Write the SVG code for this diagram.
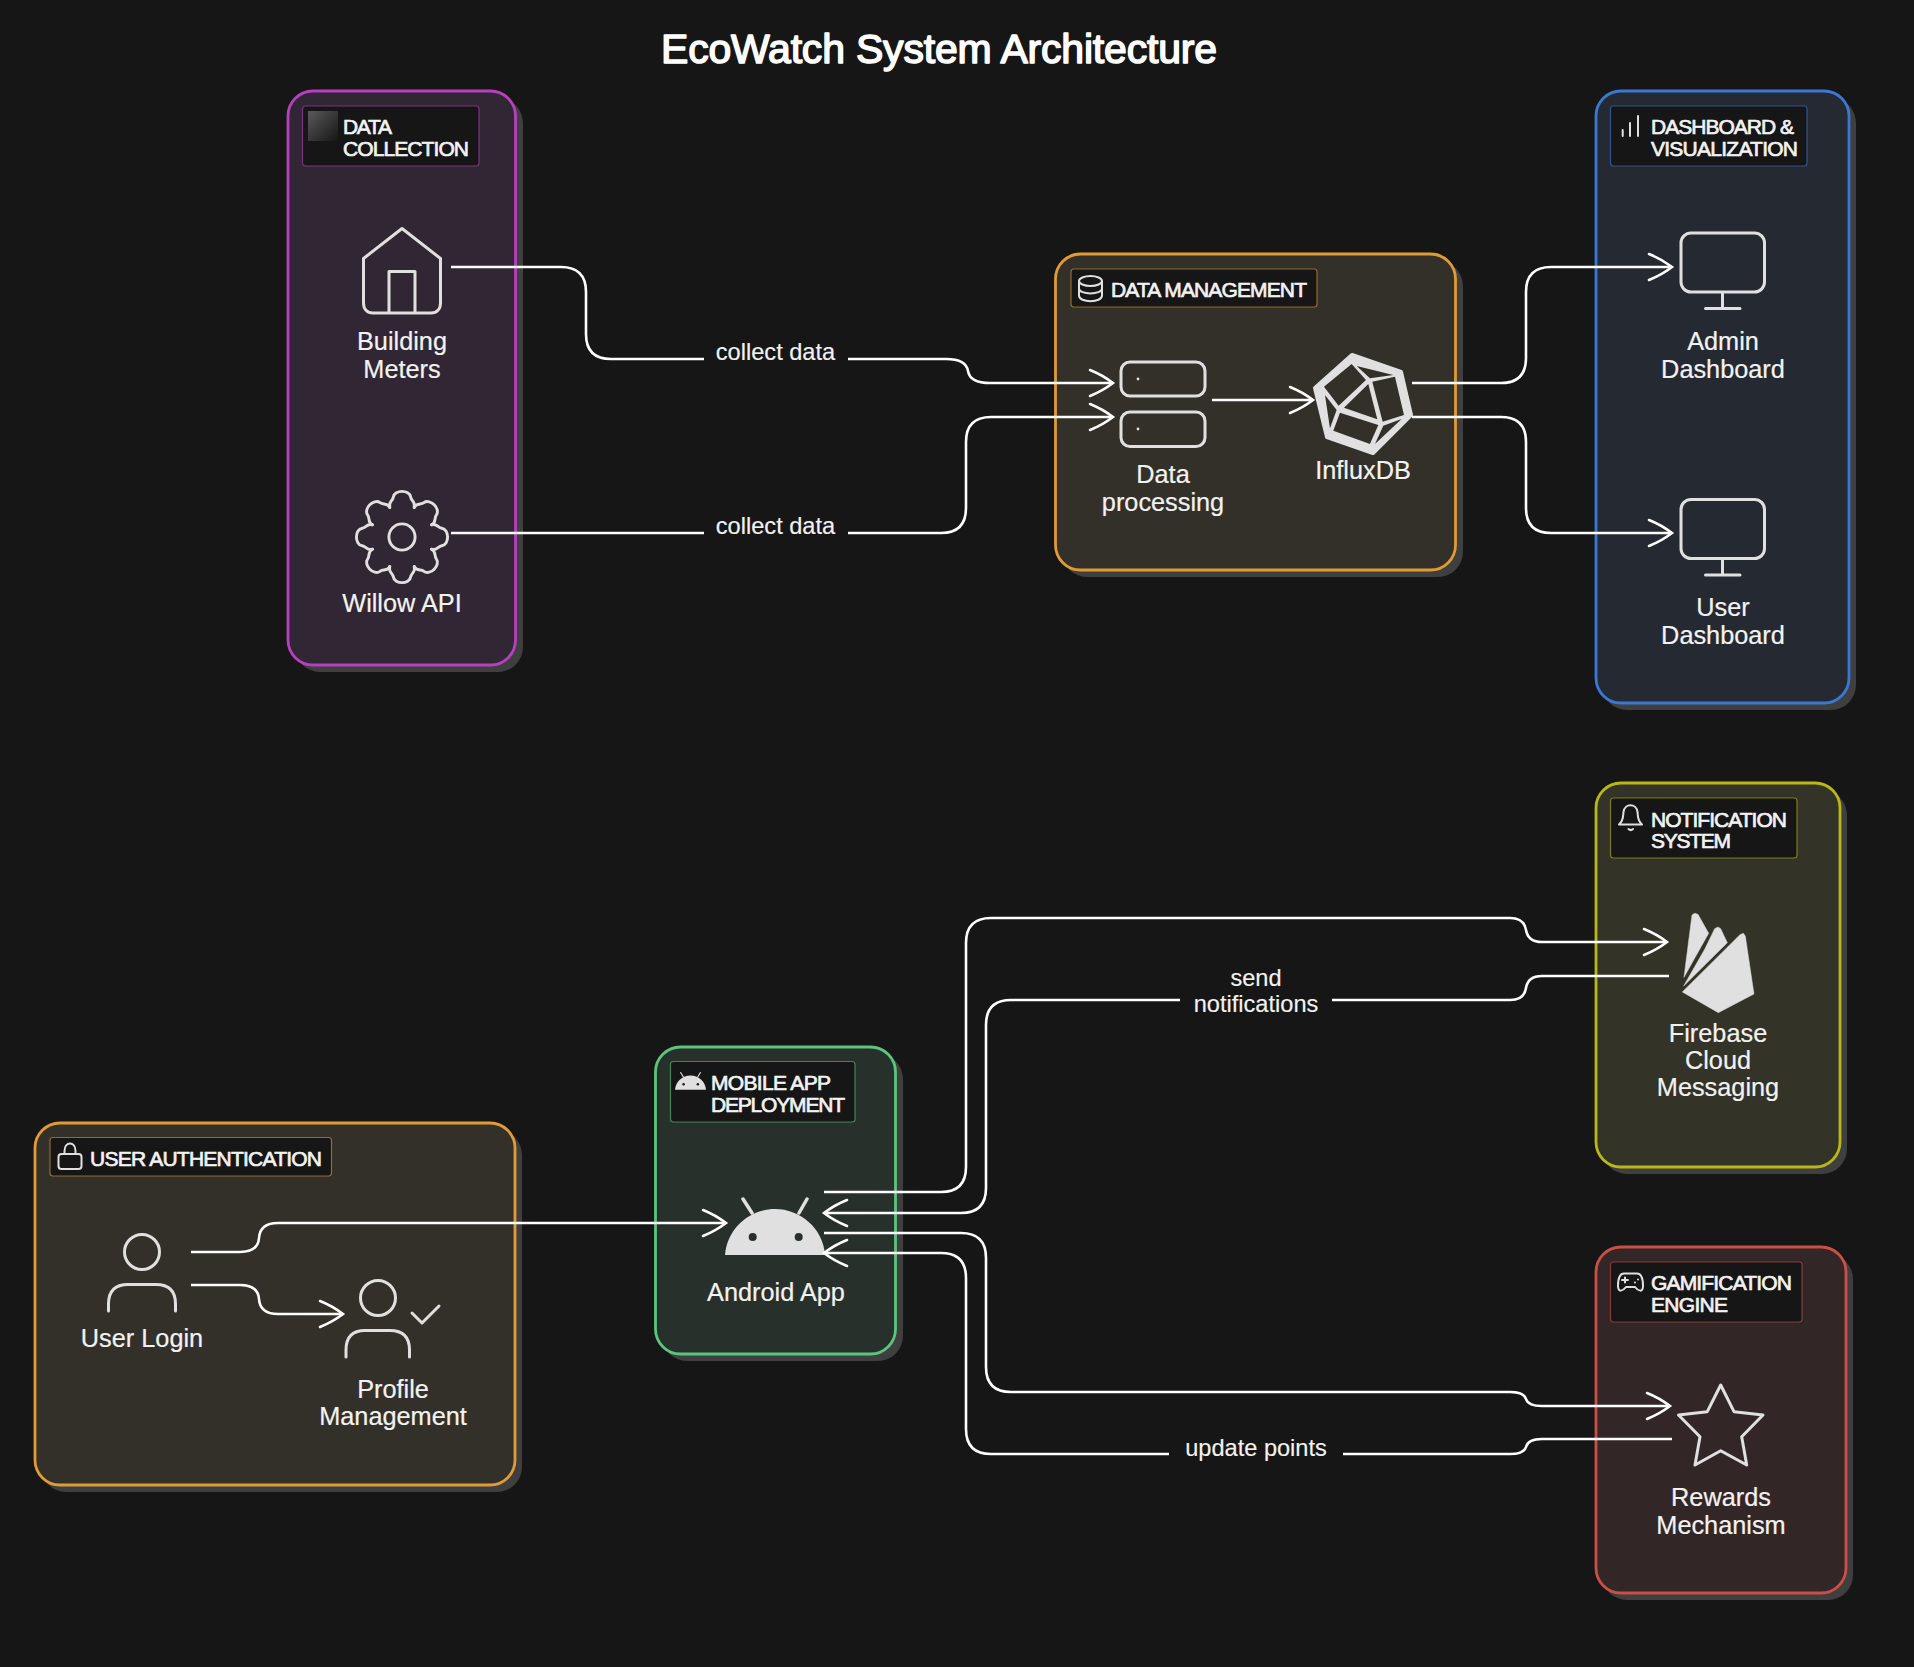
<svg xmlns="http://www.w3.org/2000/svg" width="1914" height="1667" viewBox="0 0 1914 1667">
<style>
text{font-family:"Liberation Sans",Arial,sans-serif;fill:#f2f2f2;text-anchor:middle}
.title{font-size:41px;fill:#fff;stroke:#fff;stroke-width:1.5px;stroke-linejoin:round}
.node{font-size:25.300px;stroke:#f2f2f2;stroke-width:.2px}
.edge{font-size:23.600px;stroke:#f2f2f2;stroke-width:.15px}
.grp{font-size:21px;text-anchor:start;stroke:#f2f2f2;stroke-width:.7px}
.shadow{fill:#3f3f3f}
.ic{fill:none;stroke:#e0e0e0;stroke-width:3;stroke-linecap:round;stroke-linejoin:round}
.ics{fill:none;stroke:#e0e0e0;stroke-width:2;stroke-linecap:round;stroke-linejoin:round}
.fillic{fill:#e0e0e0}
.lab{fill:#161616;stroke-width:1.2;stroke-opacity:.6}
.c{fill:none;stroke:#fff;stroke-width:2.600;stroke-linejoin:round}
</style>
<defs>
<marker id="a" viewBox="0 0 26 30" refX="24.500" refY="15" markerWidth="26" markerHeight="30" markerUnits="userSpaceOnUse" orient="auto-start-reverse" overflow="visible">
<path d="M1.500 2Q14 7 24.500 15Q14 23 1.500 28" fill="none" stroke="#fff" stroke-width="2.600" stroke-linecap="round"/>
</marker>
<linearGradient id="grad" x1="0" y1="0" x2="1" y2="1"><stop offset="0" stop-color="#5a5a5a"/><stop offset="1" stop-color="#161616"/></linearGradient>
<g id="android"><path class="fillic" d="M0 56C2 29 25 10 50 10C75 10 98 29 100 56Z"/><path d="M18 0L27 14M82 0L74 14" fill="none" stroke="#e0e0e0" stroke-width="3.500" stroke-linecap="round"/></g>
<path id="tooth" d="M30.500 -12.600C36 -14.500 37 -9.500 41 -9C45 -8.500 47 -4 47 0C47 4 45 8.500 41 9C37 9.500 36 14.500 30.500 12.600"/>
<g id="monitor"><rect x="0" y="0" width="83.500" height="59" rx="10"/><path d="M41.500 60V75M24.500 75.500H59"/></g>
</defs>
<rect width="1914" height="1667" fill="#161616"/>
<text class="title" x="939" y="63" id="title" textLength="556" lengthAdjust="spacing">EcoWatch System Architecture</text>

<g id="data-collection">
<rect class="shadow" x="295" y="98" width="228" height="574" rx="25"/>
<rect x="288" y="91" width="227.500" height="574" rx="25" fill="#312633" stroke="#b83fc0" stroke-width="2.800"/>
<rect class="lab" x="302.500" y="106" width="176.500" height="60" rx="3" stroke="#b83fc0"/>
<rect x="308" y="111" width="30" height="30" fill="url(#grad)"/>
<text class="grp" x="343" y="134" textLength="49" lengthAdjust="spacing">DATA</text>
<text class="grp" x="343" y="156" textLength="126" lengthAdjust="spacing">COLLECTION</text>
</g>
<g id="data-management">
<rect class="shadow" x="1062" y="261" width="401" height="316" rx="25"/>
<rect x="1055.500" y="254" width="400" height="316" rx="25" fill="#33302a" stroke="#e09b36" stroke-width="2.800"/>
<rect class="lab" x="1071" y="269" width="246" height="38" rx="3" stroke="#e09b36"/>
<g class="ics"><path d="M1079 281.500V295.500C1079 303 1102 303 1102 295.500V281.500"/><ellipse cx="1090.500" cy="281" rx="11.500" ry="5"/><path d="M1079 288.500C1079 295 1102 295 1102 288.500"/></g>
<text class="grp" x="1111" y="297" textLength="196" lengthAdjust="spacing">DATA MANAGEMENT</text>
</g>
<g id="dashboard">
<rect class="shadow" x="1602" y="98" width="254" height="612" rx="25"/>
<rect x="1596" y="91" width="253" height="612" rx="25" fill="#252a32" stroke="#3a78d4" stroke-width="2.800"/>
<rect class="lab" x="1610.500" y="106" width="196.500" height="60" rx="3" stroke="#3a78d4"/>
<path class="ics" d="M1622.700 130V136M1630 123V136M1638 116V136" stroke-width="1.600"/>
<text class="grp" x="1651" y="134" textLength="143" lengthAdjust="spacing">DASHBOARD &amp;</text>
<text class="grp" x="1651" y="156" textLength="147" lengthAdjust="spacing">VISUALIZATION</text>
</g>
<g id="notification">
<rect class="shadow" x="1602" y="790" width="245" height="384" rx="25"/>
<rect x="1596" y="783" width="244" height="384" rx="25" fill="#333327" stroke="#b8b816" stroke-width="2.800"/>
<rect class="lab" x="1610.500" y="798" width="186.500" height="60" rx="3" stroke="#b8b816"/>
<path class="ics" d="M1619 824.500C1624 820 1623 815 1623.500 812C1624.500 803 1636.500 803 1637.500 812C1638 815 1637 820 1642 824.500ZM1628.500 829C1630 830.500 1631.500 830.500 1633 829" stroke-width="1.800"/>
<text class="grp" x="1651" y="827" textLength="136" lengthAdjust="spacing">NOTIFICATION</text>
<text class="grp" x="1651" y="848" textLength="80" lengthAdjust="spacing">SYSTEM</text>
</g>
<g id="gamification">
<rect class="shadow" x="1602" y="1254" width="251" height="346" rx="25"/>
<rect x="1596" y="1247" width="250" height="346" rx="25" fill="#322726" stroke="#c94f47" stroke-width="2.800"/>
<rect class="lab" x="1610.500" y="1262" width="191.500" height="60" rx="3" stroke="#c94f47"/>
<path class="ics" d="M1624 1273.500H1637C1641 1273.500 1643 1278 1643 1286C1643 1293 1638 1291 1635 1287H1626C1623 1291 1618 1293 1618 1286C1618 1278 1620 1273.500 1624 1273.500ZM1622 1280H1628M1625 1277.500V1282.500M1635 1282.500V1282.600M1638 1279.500V1279.600" stroke-width="1.800"/>
<text class="grp" x="1651" y="1290" textLength="141" lengthAdjust="spacing">GAMIFICATION</text>
<text class="grp" x="1651" y="1312" textLength="77" lengthAdjust="spacing">ENGINE</text>
</g>
<g id="mobile-app">
<rect class="shadow" x="662" y="1054" width="241" height="307" rx="25"/>
<rect x="655.500" y="1047" width="240" height="307" rx="25" fill="#28302b" stroke="#5cc47d" stroke-width="2.800"/>
<rect class="lab" x="670.500" y="1061.500" width="184.500" height="60.500" rx="3" stroke="#5cc47d"/>
<g transform="translate(675,1072.500) scale(.31)"><use href="#android"/><circle cx="27.700" cy="38" r="4" fill="#161616"/><circle cx="73.700" cy="38" r="4" fill="#161616"/></g>
<text class="grp" x="711" y="1090" textLength="120" lengthAdjust="spacing">MOBILE APP</text>
<text class="grp" x="711" y="1112" textLength="134" lengthAdjust="spacing">DEPLOYMENT</text>
</g>
<g id="user-auth">
<rect class="shadow" x="41" y="1130" width="481" height="362" rx="25"/>
<rect x="35" y="1123" width="480" height="362" rx="25" fill="#33302a" stroke="#e09b36" stroke-width="2.800"/>
<rect class="lab" x="50" y="1137.500" width="281.500" height="38.500" rx="3" stroke="#e09b36"/>
<g class="ics"><rect x="58.500" y="1154" width="23" height="15" rx="3"/><path d="M64.500 1154V1151C64.500 1141 75.500 1141 75.500 1151V1154"/></g>
<text class="grp" x="90" y="1166" textLength="232" lengthAdjust="spacing">USER AUTHENTICATION</text>
</g>

<g id="building-meters">
<path class="ic" d="M402 228.500L363.500 258.500V303C363.500 309 367 313 373 313H431C437 313 440.500 309 440.500 303V258.500Z M389 313V271.500H415V313"/>
<text class="node" x="402" y="350">Building</text>
<text class="node" x="402" y="378">Meters</text>
</g>
<g id="willow-api">
<g class="ic" transform="translate(402,537) scale(.97)">
<use href="#tooth"/><use href="#tooth" transform="rotate(45)"/><use href="#tooth" transform="rotate(90)"/><use href="#tooth" transform="rotate(135)"/><use href="#tooth" transform="rotate(180)"/><use href="#tooth" transform="rotate(225)"/><use href="#tooth" transform="rotate(270)"/><use href="#tooth" transform="rotate(315)"/>
<circle r="13.500"/>
</g>
<text class="node" x="402" y="612">Willow API</text>
</g>
<g id="data-processing">
<g class="ic"><rect x="1121" y="362" width="84" height="34" rx="9"/><rect x="1121" y="412" width="84" height="34.500" rx="9"/></g>
<circle class="fillic" cx="1138" cy="379" r="1.400"/><circle class="fillic" cx="1138" cy="429" r="1.400"/>
<text class="node" x="1163" y="483">Data</text>
<text class="node" x="1163" y="511">processing</text>
</g>
<g id="influxdb">
<path d="M1352 355L1401 372L1411 415L1373 453L1327 437L1315 388Z" fill="#e0e0e0" stroke="#e0e0e0" stroke-width="4" stroke-linejoin="round"/>
<g fill="#33302a" transform="translate(1040,240) scale(.3333)">
<polygon points="852,440 935,372 978,420 896,497"/>
<polygon points="950,378 1060,405 990,415"/>
<polygon points="985,432 912,503 1012,538"/>
<polygon points="997,425 1065,410 1092,525 1028,545"/>
<polygon points="900,518 1015,555 990,612 880,572"/>
<polygon points="855,465 890,510 870,565"/>
<polygon points="1030,557 1085,537 1005,612"/>
</g>
<text class="node" x="1363" y="479">InfluxDB</text>
</g>
<g id="admin-dashboard">
<use href="#monitor" class="ic" x="1681" y="233"/>
<text class="node" x="1723" y="350">Admin</text>
<text class="node" x="1723" y="378">Dashboard</text>
</g>
<g id="user-dashboard">
<use href="#monitor" class="ic" x="1681" y="499.500"/>
<text class="node" x="1723" y="616">User</text>
<text class="node" x="1723" y="644">Dashboard</text>
</g>
<g id="firebase">
<g fill="#e0e0e0" stroke="#e0e0e0" stroke-width="1.500" stroke-linejoin="round" transform="translate(1590,780) scale(.3333)">
<polygon points="282,592 306,405 314,400 324,403 356,460"/>
<polygon points="281,618 345,506 374,446 384,441 392,446 412,488"/>
<polygon points="277,636 450,464 460,460 466,468 492,642 385,698"/>
</g>
<text class="node" x="1718" y="1042">Firebase</text>
<text class="node" x="1718" y="1069">Cloud</text>
<text class="node" x="1718" y="1096">Messaging</text>
</g>
<g id="rewards">
<polygon class="ic" points="1720.700,1385 1734,1411.700 1763,1415 1741.700,1436.700 1746.700,1465 1720.700,1450.700 1695,1465 1700,1436.700 1678.500,1415 1707.300,1411.700"/>
<text class="node" x="1721" y="1506">Rewards</text>
<text class="node" x="1721" y="1534">Mechanism</text>
</g>
<g id="android-app">
<g transform="translate(725,1199)"><use href="#android"/><circle cx="27.700" cy="38" r="4" fill="#28302b"/><circle cx="73.700" cy="38" r="4" fill="#28302b"/></g>
<text class="node" x="776" y="1301">Android App</text>
</g>
<g id="user-login">
<g class="ic"><circle cx="142" cy="1252" r="17.500"/><path d="M108.500 1311V1304Q108.500 1284.500 128 1284.500H156Q175.500 1284.500 175.500 1304V1311"/></g>
<text class="node" x="142" y="1347">User Login</text>
</g>
<g id="profile">
<g class="ic"><circle cx="378" cy="1298" r="17.500"/><path d="M346 1357V1350Q346 1330.500 365 1330.500H390Q409.500 1330.500 409.500 1350V1357M412 1313L422 1323L439 1306"/></g>
<text class="node" x="393" y="1398">Profile</text>
<text class="node" x="393" y="1425">Management</text>
</g>

<g id="connectors">
<path class="c" d="M451 267H561Q586 267 586 292V334Q586 359 611 359H704"/>
<path class="c" marker-end="url(#a)" d="M848 359H946Q966 359 968 371Q970 383 990 383H1113"/>
<path class="c" d="M451 533H704"/>
<path class="c" marker-end="url(#a)" d="M848 533H941Q966 533 966 508V442Q966 417 991 417H1113"/>
<path class="c" marker-end="url(#a)" d="M1212 400H1313"/>
<path class="c" marker-end="url(#a)" d="M1412 383H1501Q1526 383 1526 358V292Q1526 267 1551 267H1672"/>
<path class="c" marker-end="url(#a)" d="M1412 417H1501Q1526 417 1526 442V508Q1526 533 1551 533H1672"/>
<path class="c" marker-end="url(#a)" d="M191 1252H240Q258 1252 259 1238Q260 1223 278 1223H726"/>
<path class="c" marker-end="url(#a)" d="M191 1285H240Q258 1285 259 1299Q260 1314 278 1314H343"/>
<path class="c" marker-end="url(#a)" d="M824 1192H941Q966 1192 966 1167V943Q966 918 991 918H1510Q1524 918 1526 930Q1528 942 1542 942H1667"/>
<path class="c" d="M1669 976H1542Q1528 976 1526 988Q1524 1000 1510 1000H1332"/>
<path class="c" marker-end="url(#a)" d="M1180 1000H1011Q986 1000 986 1025V1188Q986 1213 961 1213H824"/>
<path class="c" marker-end="url(#a)" d="M824 1233H961Q986 1233 986 1258V1367Q986 1392 1011 1392H1510Q1524 1392 1526 1399Q1528 1406 1542 1406H1670"/>
<path class="c" d="M1672 1439H1542Q1528 1439 1526 1447Q1524 1454 1510 1454H1343"/>
<path class="c" marker-end="url(#a)" d="M1169 1454H991Q966 1454 966 1429V1278Q966 1253 941 1253H824"/>
<text class="edge" x="775.500" y="360">collect data</text>
<text class="edge" x="775.500" y="534">collect data</text>
<text class="edge" x="1256" y="986">send</text>
<text class="edge" x="1256" y="1012">notifications</text>
<text class="edge" x="1256" y="1456">update points</text>
</g>
</svg>
